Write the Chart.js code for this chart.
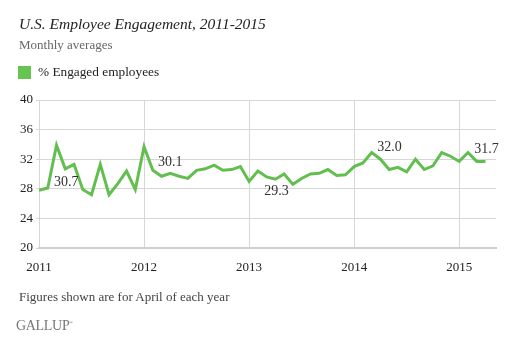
<!DOCTYPE html>
<html>
<head>
<meta charset="utf-8">
<script src="https://cdn.jsdelivr.net/npm/chart.js@4/dist/chart.umd.min.js"></script>
<style>
  body { margin: 0; background: #fff; }
  #wrap { position: relative; width: 520px; height: 346px; font-family: "Liberation Serif", serif; }
  #wrap canvas { position: absolute; left: 0; top: 0; }
  .t { position: absolute; white-space: nowrap; }
  #title { left: 19px; top: 14px; font-size: 15.5px; line-height: 20px; font-style: italic; color: #222; }
  #sub { left: 19px; top: 37px; font-size: 13px; line-height: 16px; color: #666; }
  #swatch { left: 18px; top: 66px; width: 13px; height: 13px; background: #66c450; }
  #leg { left: 38px; top: 64px; font-size: 13.3px; line-height: 16px; color: #222; }
  #note { left: 19px; top: 289px; font-size: 13px; line-height: 16px; color: #444; }
  #logo { left: 16px; top: 315px; font-size: 14px; line-height: 16px; color: #777; letter-spacing: -0.3px; }
</style>
</head>
<body>
<div id="wrap">
  <canvas id="LineChart" width="520" height="346"></canvas>
  <div class="t" id="title">U.S. Employee Engagement, 2011-2015</div>
  <div class="t" id="sub">Monthly averages</div>
  <div class="t" id="swatch"></div>
  <div class="t" id="leg">% Engaged employees</div>
  <div class="t" id="note">Figures shown are for April of each year</div>
  <div class="t" id="logo">GALLUP<sup style="font-size:5px">&#174;</sup></div>
</div>
<script>
var years = ['2011', '2012', '2013', '2014', '2015'];
// monthly averages, Jan 2011 .. Apr 2015
var engaged = [
  27.8, 28.1, 33.9, 30.7, 31.3, 27.9, 27.2, 31.3, 27.2, 28.7, 30.4, 27.9,
  33.7, 30.5, 29.7, 30.1, 29.7, 29.4, 30.5, 30.7, 31.2, 30.5, 30.6, 31.0,
  29.0, 30.4, 29.6, 29.3, 30.0, 28.6, 29.4, 30.0, 30.1, 30.6, 29.8, 29.9,
  31.0, 31.5, 32.9, 32.0, 30.6, 30.9, 30.3, 32.0, 30.6, 31.1, 32.9, 32.4,
  31.7, 32.9, 31.7, 31.7
];
// April of each year gets a label
var labelled = [3, 15, 27, 39, 51];
var labelOffset = [[1, 14], [0, -11], [1, 12], [9, -12], [1, -12]];

var points = engaged.map(function (v, i) { return { x: i, y: v }; });

var pointLabels = {
  id: 'pointLabels',
  afterDatasetsDraw: function (chart) {
    var ctx = chart.ctx;
    var meta = chart.getDatasetMeta(0);
    ctx.save();
    ctx.font = '14px "Liberation Serif"';
    ctx.fillStyle = '#333';
    ctx.textAlign = 'center';
    ctx.textBaseline = 'middle';
    labelled.forEach(function (idx, k) {
      var p = meta.data[idx];
      ctx.fillText(engaged[idx].toFixed(1), p.x + labelOffset[k][0], p.y + labelOffset[k][1]);
    });
    ctx.restore();
  }
};

new Chart(document.getElementById('LineChart'), {
  type: 'line',
  data: {
    datasets: [{
      label: '% Engaged employees',
      data: points,
      borderColor: '#62bf4f',
      borderWidth: 3,
      pointRadius: 0,
      tension: 0,
      fill: false
    }]
  },
  options: {
    responsive: false,
    animation: false,
    layout: { padding: { top: 100, right: 24, left: 0, bottom: 0 } },
    plugins: { legend: { display: false }, tooltip: { enabled: false } },
    scales: {
      x: {
        type: 'linear',
        min: 0,
        max: 52.2,
        afterBuildTicks: function (scale) {
          scale.ticks = years.map(function (y, i) { return { value: i * 12 }; });
        },
        afterFit: function (scale) { scale.height = 98; },
        ticks: {
          padding: 12,
          maxRotation: 0,
          color: '#222',
          font: { family: 'Liberation Serif', size: 13 },
          callback: function (v) { return years[v / 12]; }
        },
        grid: { color: '#d6d6d6', lineWidth: 1, drawTicks: false },
        border: { display: true, color: '#cfcfcb', width: 2 }
      },
      y: {
        min: 20,
        max: 40,
        afterFit: function (scale) { scale.width = 39; },
        ticks: {
          stepSize: 4,
          padding: 3,
          color: '#222',
          font: { family: 'Liberation Serif', size: 13 }
        },
        grid: { color: '#d6d6d6', lineWidth: 1, tickLength: 3 },
        border: { display: false }
      }
    }
  },
  plugins: [pointLabels]
});
</script>
</body>
</html>
